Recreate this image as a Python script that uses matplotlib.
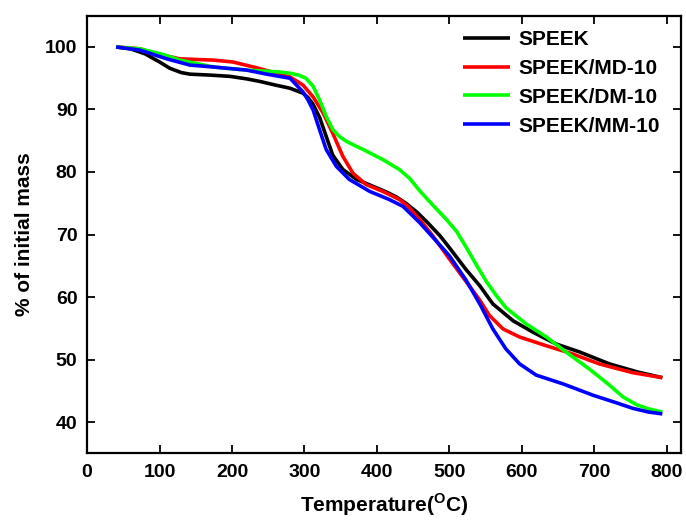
import matplotlib
matplotlib.use("Agg")
import matplotlib.pyplot as plt

plt.rcParams['font.family'] = ['Liberation Sans', 'DejaVu Sans']
plt.rcParams['font.weight'] = 'bold'
plt.rcParams['mathtext.fontset'] = 'custom'
plt.rcParams['mathtext.rm'] = 'Liberation Sans:bold'
plt.rcParams['mathtext.bf'] = 'Liberation Sans:bold'

# TGA curves: temperature (°C) and remaining mass (%)
speek_t = [40, 60, 80, 100, 114, 130, 142, 170, 197, 220, 238, 260, 280, 298,
           305, 312, 321, 330, 339, 353, 372, 399, 413, 427, 440, 455, 470, 487, 500,
           523, 542, 560, 588, 615, 647, 680, 721, 760, 794]
speek_m = [100, 99.7, 98.9, 97.6, 96.6, 95.9, 95.65, 95.5, 95.3, 94.9, 94.5, 93.9, 93.4,
           92.6, 91.9, 90.8, 88.7, 85.7, 82.7, 80.4, 78.8, 77.5, 76.8, 76.0, 75.0,
           73.6, 71.9, 69.8, 67.9, 64.4, 61.8, 58.9, 56.2, 54.4, 52.5, 51.2, 49.3,
           48.0, 47.1]

md_t = [40, 73, 100, 128, 174, 201, 233, 266, 280, 298, 312, 326, 339, 353, 367,
        385, 408, 431, 442, 460, 477, 500, 514, 530, 542, 555, 574, 597, 634, 670,
        707, 730, 753, 794]
md_m = [100, 99.7, 98.8, 98.1, 97.9, 97.6, 96.7, 95.65, 95.2, 93.9, 92.0, 89.4, 86.2,
        82.5, 79.8, 78.0, 76.9, 75.6, 74.6, 72.3, 69.8, 66.1, 63.9, 61.4, 59.5, 57.1,
        54.9, 53.6, 52.2, 50.9, 49.3, 48.6, 47.9, 47.1]

dm_t = [40, 73, 105, 128, 174, 220, 266, 280, 292, 302, 312, 321, 330, 339, 348,
        358, 370, 381, 408, 431, 445, 459, 478, 496, 510, 523, 537, 551, 565, 578,
        606, 634, 661, 693, 719, 740, 758, 775, 794]
dm_m = [100, 99.7, 98.8, 97.9, 96.8, 96.3, 96.0, 95.8, 95.5, 95.0, 93.7, 91.5, 88.9,
        86.8, 85.7, 84.9, 84.2, 83.6, 82.0, 80.4, 79.0, 77.0, 74.6, 72.4, 70.5, 68.0,
        65.2, 62.5, 60.2, 58.3, 55.7, 53.6, 51.2, 48.5, 46.1, 44.0, 42.8, 42.1, 41.6]

mm_t = [40, 73, 110, 142, 174, 220, 248, 280, 298, 305, 312, 321, 330, 344, 362,
        390, 417, 436, 459, 487, 500, 523, 542, 560, 578, 597, 620, 657, 698, 730,
        753, 775, 794]
mm_m = [100, 99.5, 98.1, 97.1, 96.8, 96.3, 95.65, 95.0, 92.8, 91.5, 89.9, 86.7, 83.6,
        80.9, 78.8, 76.9, 75.6, 74.5, 71.9, 68.3, 66.6, 62.7, 58.9, 54.9, 51.7, 49.3,
        47.5, 46.1, 44.3, 43.1, 42.2, 41.6, 41.3]

labels = ['SPEEK', 'SPEEK/MD-10', 'SPEEK/DM-10', 'SPEEK/MM-10']
colors = ['#000000', '#FF0000', '#00FF00', '#0000FF']
x_ticks = [0, 100, 200, 300, 400, 500, 600, 700, 800]
y_ticks = [40, 50, 60, 70, 80, 90, 100]

fig = plt.figure(figsize=(6.86, 5.22), dpi=100)
ax = fig.add_axes([0.127, 0.1316, 0.866, 0.8383])

series = [(speek_t, speek_m), (md_t, md_m), (dm_t, dm_m), (mm_t, mm_m)]
for (t, m), lab, c in zip(series, labels, colors):
    ax.plot(t, m, color=c, lw=2.6, label=lab, solid_joinstyle='round',
            solid_capstyle='butt')

ax.set_xlim(0, 820)
ax.set_ylim(35, 105)
ax.set_xticks(x_ticks)
ax.set_yticks(y_ticks)
ax.tick_params(direction='in', length=6, width=1.3, top=True, right=True,
               labelsize=14)
ax.tick_params(axis='x', pad=8)
ax.tick_params(axis='y', pad=7)
for lbl in ax.get_xticklabels() + ax.get_yticklabels():
    lbl.set_fontweight('bold')
for sp in ax.spines.values():
    sp.set_linewidth(1.6)

ax.set_xlabel(r'Temperature($^{\mathbf{O}}$C)', fontsize=15, fontweight='bold', labelpad=7)
ax.set_ylabel('% of initial mass', fontsize=15, fontweight='bold', labelpad=8)

leg = ax.legend(loc='upper left', bbox_to_anchor=(0.633, 0.967), frameon=False,
                fontsize=15, handlelength=2.25, handletextpad=0.4, labelspacing=0.47,
                borderpad=0, borderaxespad=0)
for txt in leg.get_texts():
    txt.set_fontweight('bold')

fig.savefig('out.png', dpi=100)
